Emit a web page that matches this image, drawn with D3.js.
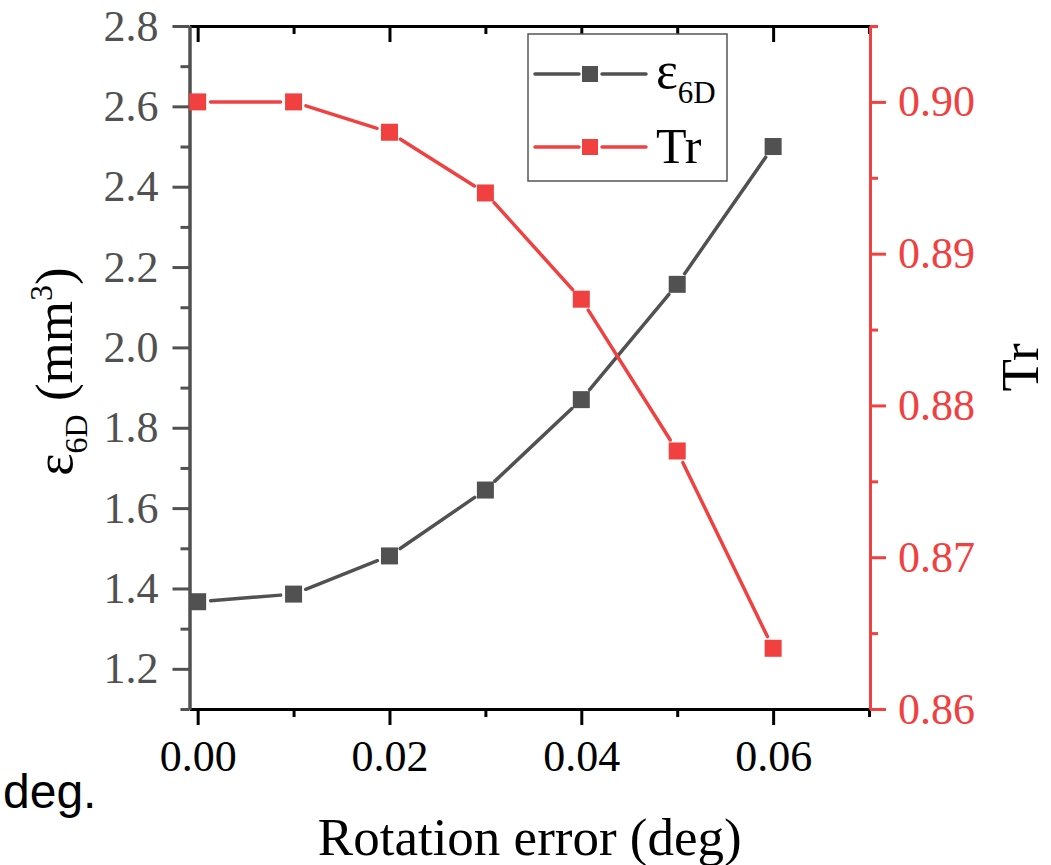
<!DOCTYPE html>
<html>
<head>
<meta charset="utf-8">
<script src="https://cdn.jsdelivr.net/npm/d3@7"></script>
<style>
  body { margin: 0; background: #fff; }
  text { font-family: "Liberation Serif", "Times New Roman", serif; }
</style>
</head>
<body>
<div id="chart"></div>
<script>
//data
var rotErr = [0, 0.01, 0.02, 0.03, 0.04, 0.05, 0.06];
var eps6D = [1.367, 1.386, 1.481, 1.645, 1.870, 2.157, 2.500];
var trVals = [0.900, 0.900, 0.898, 0.894, 0.887, 0.877, 0.864];

var xMajor = [0, 0.02, 0.04, 0.06];
var xMinor = [0.01, 0.03, 0.05, 0.07];
var leftMajor = [1.2, 1.4, 1.6, 1.8, 2.0, 2.2, 2.4, 2.6, 2.8];
var leftMinor = [1.1, 1.3, 1.5, 1.7, 1.9, 2.1, 2.3, 2.5, 2.7];
var rightMajor = [0.86, 0.87, 0.88, 0.89, 0.90];
var rightMinor = [0.865, 0.875, 0.885, 0.895, 0.905];

//svg size and plot box
var svgWidth = 1051;
var svgHeight = 865;
var plot = { left: 189.5, right: 870, top: 26, bottom: 709 };

var gray = "#515151";
var red = "#F14040";
var serif = "Liberation Serif";

var svg = d3.select("#chart")
    .append("svg")
    .attr("width", svgWidth)
    .attr("height", svgHeight);

//scales
var x = d3.scaleLinear().domain([-0.00085, 0.0701]).range([plot.left, plot.right]);
var yLeft = d3.scaleLinear().domain([1.1, 2.8]).range([plot.bottom, plot.top]);
var yRight = d3.scaleLinear().domain([0.86, 0.905]).range([plot.bottom, plot.top]);

function styleAxis(g, color) {
    g.attr("font-family", serif).attr("font-size", 44);
    g.select(".domain").attr("stroke", color).attr("stroke-width", 3);
    g.selectAll(".tick line").attr("stroke", color).attr("stroke-width", 3);
    g.selectAll(".tick text")
        .attr("fill", color)
        .attr("font-family", serif)
        .attr("font-size", 44);
}

//bottom axis, major and minor ticks
var xAxisG = svg.append("g")
    .attr("transform", `translate(0, ${plot.bottom})`)
    .call(d3.axisBottom(x).tickValues(xMajor).tickSize(16).tickSizeOuter(0)
        .tickPadding(15).tickFormat(d3.format(".2f")));
styleAxis(xAxisG, "#000");
xAxisG.selectAll(".tick text").attr("dy", "0.71em");

var xMinorG = svg.append("g")
    .attr("transform", `translate(0, ${plot.bottom})`)
    .call(d3.axisBottom(x).tickValues(xMinor).tickSize(8).tickSizeOuter(0).tickFormat(""));
styleAxis(xMinorG, "#000");

//top axis, ticks inward
var topG = svg.append("g")
    .attr("transform", `translate(0, ${plot.top})`)
    .call(d3.axisBottom(x).tickValues(xMajor).tickSize(16).tickSizeOuter(0).tickFormat(""));
styleAxis(topG, "#000");
var topMinorG = svg.append("g")
    .attr("transform", `translate(0, ${plot.top})`)
    .call(d3.axisBottom(x).tickValues(xMinor).tickSize(8).tickSizeOuter(0).tickFormat(""));
styleAxis(topMinorG, "#000");

//left axis
var leftG = svg.append("g")
    .attr("transform", `translate(${plot.left}, 0)`)
    .call(d3.axisLeft(yLeft).tickValues(leftMajor).tickSize(17).tickSizeOuter(0)
        .tickPadding(14).tickFormat(d3.format(".1f")));
styleAxis(leftG, gray);
var leftMinorG = svg.append("g")
    .attr("transform", `translate(${plot.left}, 0)`)
    .call(d3.axisLeft(yLeft).tickValues(leftMinor).tickSize(9).tickSizeOuter(0).tickFormat(""));
styleAxis(leftMinorG, gray);

//right axis
var rightG = svg.append("g")
    .attr("transform", `translate(${plot.right}, 0)`)
    .call(d3.axisRight(yRight).tickValues(rightMajor).tickSize(16).tickSizeOuter(0)
        .tickPadding(12).tickFormat(d3.format(".2f")));
styleAxis(rightG, red);
var rightMinorG = svg.append("g")
    .attr("transform", `translate(${plot.right}, 0)`)
    .call(d3.axisRight(yRight).tickValues(rightMinor).tickSize(8).tickSizeOuter(0).tickFormat(""));
styleAxis(rightMinorG, red);

//line segments with a small gap around each marker
var gap = 13;
function drawSeries(vals, yScale, color) {
    var pts = rotErr.map((d, i) => [x(d), yScale(vals[i])]);
    var segs = d3.pairs(pts).map(function(p) {
        var dx = p[1][0] - p[0][0], dy = p[1][1] - p[0][1];
        var len = Math.sqrt(dx * dx + dy * dy);
        var ux = dx / len, uy = dy / len;
        return [[p[0][0] + ux * gap, p[0][1] + uy * gap], [p[1][0] - ux * gap, p[1][1] - uy * gap]];
    });
    var g = svg.append("g");
    g.selectAll("line")
        .data(segs)
        .enter()
        .append("line")
        .attr("x1", d => d[0][0])
        .attr("y1", d => d[0][1])
        .attr("x2", d => d[1][0])
        .attr("y2", d => d[1][1])
        .attr("stroke", color)
        .attr("stroke-width", 3.5)
        .attr("stroke-linecap", "round");
    g.selectAll("rect")
        .data(pts)
        .enter()
        .append("rect")
        .attr("x", d => d[0] - 8.5)
        .attr("y", d => d[1] - 8.5)
        .attr("width", 17)
        .attr("height", 17)
        .attr("fill", color);
}
drawSeries(eps6D, yLeft, gray);
drawSeries(trVals, yRight, red);

//legend
var legend = svg.append("g");
legend.append("rect")
    .attr("x", 528).attr("y", 34)
    .attr("width", 199).attr("height", 147)
    .attr("fill", "#fff")
    .attr("stroke", "#555")
    .attr("stroke-width", 1.5);
[{ y: 74, color: gray }, { y: 147, color: red }].forEach(function(e) {
    legend.append("line").attr("x1", 535).attr("x2", 579).attr("y1", e.y).attr("y2", e.y)
        .attr("stroke", e.color).attr("stroke-width", 3.5).attr("stroke-linecap", "round");
    legend.append("line").attr("x1", 602).attr("x2", 646).attr("y1", e.y).attr("y2", e.y)
        .attr("stroke", e.color).attr("stroke-width", 3.5).attr("stroke-linecap", "round");
    legend.append("rect").attr("x", 582).attr("y", e.y - 8).attr("width", 16).attr("height", 16)
        .attr("fill", e.color);
});
var leg1 = legend.append("text").attr("x", 656).attr("y", 88).attr("fill", "#000").style("font-size", "52px");
leg1.append("tspan").text("ε");
leg1.append("tspan").attr("dy", 15).style("font-size", "31px").text("6D");
legend.append("text").attr("x", 656).attr("y", 163).attr("fill", "#000").style("font-size", "50px").text("Tr");

//axis titles
svg.append("text")
    .attr("x", (plot.left + plot.right) / 2)
    .attr("y", 855)
    .attr("text-anchor", "middle")
    .attr("fill", "#000")
    .style("font-size", "53px")
    .text("Rotation error (deg)");

var yTitle = svg.append("text")
    .attr("transform", `translate(72, ${(plot.top + plot.bottom) / 2 + 4}) rotate(-90)`)
    .attr("text-anchor", "middle")
    .attr("fill", "#000")
    .style("font-size", "53px");
yTitle.append("tspan").text("ε");
yTitle.append("tspan").attr("dy", 15).style("font-size", "32px").text("6D");
yTitle.append("tspan").attr("dy", -15).text(" (mm");
yTitle.append("tspan").attr("dy", -20).style("font-size", "32px").text("3");
yTitle.append("tspan").attr("dy", 20).text(")");

svg.append("text")
    .attr("transform", `translate(1038, ${(plot.top + plot.bottom) / 2}) rotate(-90)`)
    .attr("text-anchor", "middle")
    .attr("fill", "#000")
    .style("font-size", "53px")
    .text("Tr");

//leftover caption fragment at bottom left
svg.append("text")
    .attr("x", 3)
    .attr("y", 808)
    .attr("fill", "#000")
    .style("font-family", "'Liberation Sans', Arial, sans-serif")
    .style("font-size", "48px")
    .text("deg.");
</script>
</body>
</html>
